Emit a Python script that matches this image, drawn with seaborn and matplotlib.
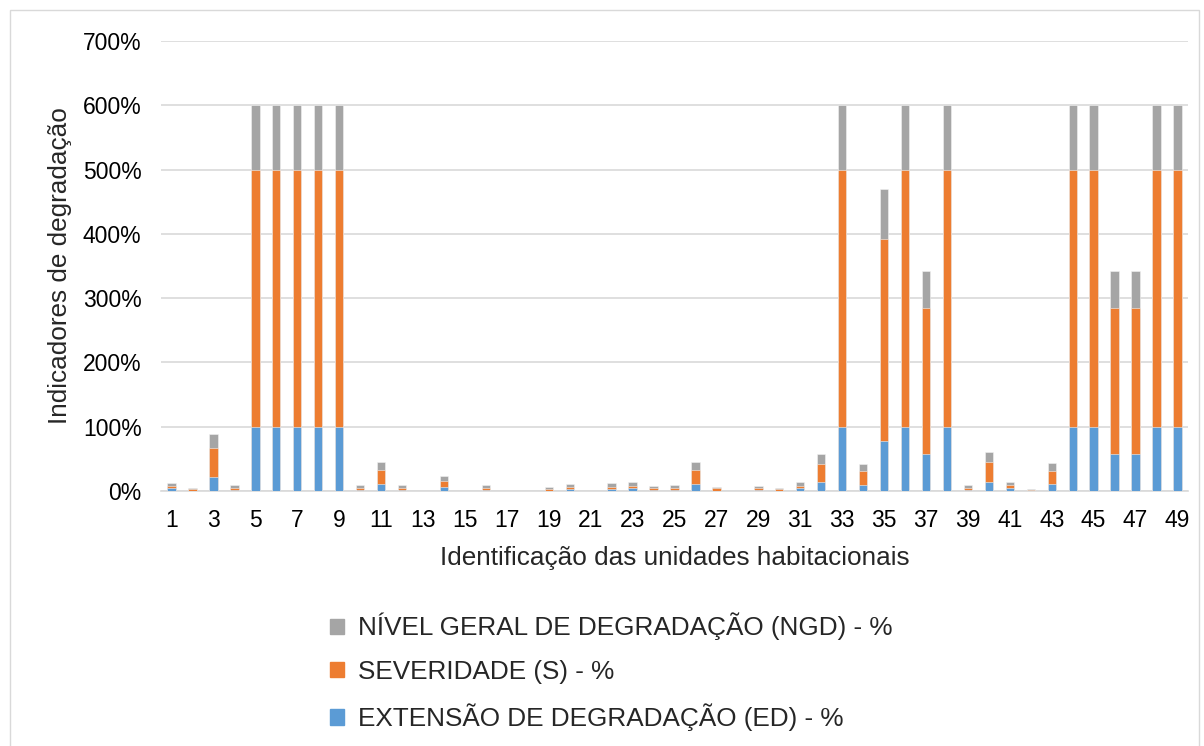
import matplotlib
matplotlib.use("Agg")
import matplotlib.pyplot as plt
import matplotlib.patches as mpatches
from matplotlib.ticker import FuncFormatter, MultipleLocator
import numpy as np
import pandas as pd
import seaborn as sns

# Data (percent) per housing unit 1..49
units = list(range(1, 50))
ed = [4, 0.5, 22, 1.5, 100, 100, 100, 100, 100, 2,
      11, 2, 0, 7, 0, 2, 0, 0, 0.5, 2.5,
      0, 3, 4, 1.5, 2, 11, 0.5, 0, 1.5, 0.5,
      4, 14, 100, 9, 78, 100, 57, 100, 2, 14.5,
      4.5, 0.5, 10.5, 100, 100, 57, 57, 100, 100]
sev = [4, 2, 45, 3.5, 400, 400, 400, 400, 400, 3,
       22, 3, 0, 8, 0, 3, 0, 0, 2.5, 4.5,
       0, 4, 4, 3, 3, 22, 4, 0, 3, 2,
       4, 28.5, 400, 22, 314, 400, 228, 400, 3, 30.5,
       4.5, 1.5, 20.5, 400, 400, 228, 228, 400, 400]
ngd = [5, 1.5, 22, 4, 100, 100, 100, 100, 100, 4,
       11.5, 4.5, 0, 8, 0, 4.5, 0, 0, 2.5, 4,
       0, 5.5, 5.5, 3.5, 4.5, 11.5, 2.5, 0, 3.5, 2.5,
       5.5, 15, 100, 11, 78, 100, 57, 100, 4.5, 15,
       5, 1.5, 12, 100, 100, 57, 57, 100, 100]

labels = ["EXTENSÃO DE DEGRADAÇÃO (ED) - %",
          "SEVERIDADE (S) - %",
          "NÍVEL GERAL DE DEGRADAÇÃO (NGD) - %"]
colors = ["#5B9BD5", "#ED7D31", "#A5A5A5"]

df = pd.DataFrame({"unit": [str(u) for u in units], "ED": ed, "S": sev, "NGD": ngd})
df["cum_s"] = df["ED"] + df["S"]
df["cum_ngd"] = df["cum_s"] + df["NGD"]

sns.set_theme(style="white")
plt.rcParams["font.family"] = ["Liberation Sans", "DejaVu Sans"]

fig = plt.figure(figsize=(12.04, 7.46), dpi=100)
ax = fig.add_axes([161 / 1204, 1 - 491 / 746, (1188 - 161) / 1204, (491 - 41) / 746])

# stacked bars drawn as overlapping cumulative totals
order = df["unit"].tolist()
for col, c in zip(["cum_ngd", "cum_s", "ED"], [colors[2], colors[1], colors[0]]):
    sns.barplot(data=df, x="unit", y=col, order=order, color=c, width=0.4,
                saturation=1, edgecolor="#F2F2F2", linewidth=0.4, ax=ax, zorder=3)

ax.set_xlim(-0.5, len(units) - 0.5)
ax.set_ylim(0, 700)
ax.yaxis.set_major_locator(MultipleLocator(100))
ax.yaxis.set_major_formatter(FuncFormatter(lambda v, p: f"{int(v)}%"))
ax.set_xticks(range(0, len(units), 2))
ax.set_xticklabels([str(u) for u in units[::2]])
ax.grid(axis="y", color="#D9D9D9", linewidth=1.2, zorder=0)
ax.set_axisbelow(True)
for s in ["top", "right", "left"]:
    ax.spines[s].set_visible(False)
ax.spines["bottom"].set_color("#D9D9D9")
ax.spines["bottom"].set_linewidth(1.2)
ax.tick_params(axis="y", length=0, pad=14, labelsize=16.5, colors="#000000")
ax.tick_params(axis="x", length=0, pad=13, labelsize=16.5, colors="#000000")

ax.set_xlabel("Identificação das unidades habitacionais", fontsize=18.8, labelpad=10)
ax.set_ylabel("Indicadores de degradação", fontsize=18.8, labelpad=8)

handles = [mpatches.Patch(color=colors[i]) for i in [2, 1, 0]]
fig.legend(handles, [labels[i] for i in [2, 1, 0]], loc="center left",
           bbox_to_anchor=(317 / 1204, 1 - 672 / 746), frameon=False,
           fontsize=18.8, handlelength=0.52, handleheight=0.52, borderpad=0,
           handletextpad=0.55, labelspacing=0.75)

# chart area border
fig.add_artist(mpatches.Rectangle((10 / 1204, -0.05), 1189 / 1204, 1.05 - 10 / 746,
                                  transform=fig.transFigure, fill=False,
                                  edgecolor="#D9D9D9", linewidth=1))

fig.savefig("out.png", dpi=100)
